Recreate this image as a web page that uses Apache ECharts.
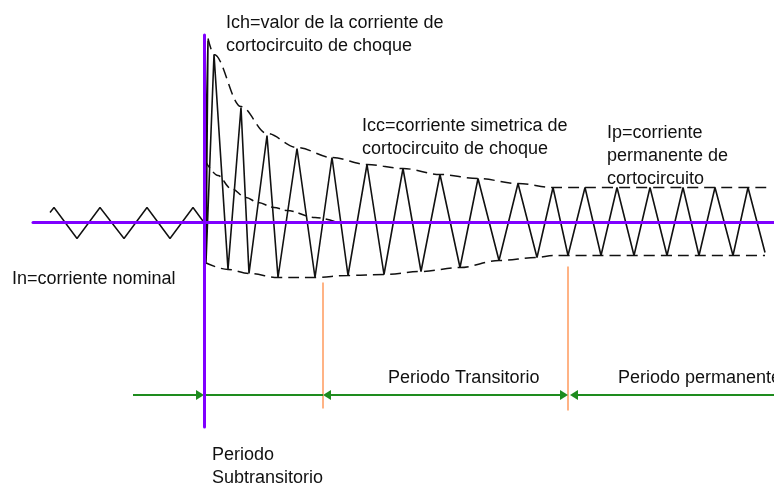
<!DOCTYPE html>
<html>
<head>
<meta charset="utf-8">
<script src="https://cdn.jsdelivr.net/npm/echarts@6/dist/echarts.min.js"></script>
<style>
html, body { margin: 0; padding: 0; background: #fff; }
#chart { width: 774px; height: 486px; }
</style>
</head>
<body>
<div id="chart"></div>
<script>
// tiempo en unidades arbitrarias, 0 = instante del cortocircuito
var tPre = [-154, -150, -127, -104, -80, -57, -34, -11, 0];
var iPre = [10, 15, -16, 15, -16, 15, -16, 15, 0];

// corriente de cortocircuito (picos y valles)
var tFault = [0, 4, 2, 10, 24, 37, 45, 63, 74, 93, 111, 128, 144, 163, 180, 199, 217, 236, 256, 274,
    295, 314, 333, 349, 364, 381, 397, 413, 430, 446, 463, 479, 495, 511, 529, 544, 561];
var iFault = [0, 182, -40, 168, -47, 115, -51, 87, -55, 74, -55, 65, -53, 58, -52, 54, -49, 48, -45, 44,
    -38, 39, -35, 35, -33, 35, -33, 35, -33, 35, -33, 35, -33, 35, -33, 35, -30];

// envolventes
var tUpper = [4, 10, 37, 63, 93, 128, 163, 199, 236, 274, 314, 349, 563];
var iUpper = [184, 168, 116, 89, 75, 65, 58, 54, 48, 44, 39, 35, 35];
var tLower = [1, 24, 45, 74, 111, 144, 180, 217, 256, 295, 333, 349, 561];
var iLower = [-40, -47, -51, -55, -55, -53, -52, -49, -45, -38, -35, -33, -33];

// componente continua
var tDC = [1, 14, 27, 42, 54, 70, 83, 111, 134];
var iDC = [62, 47, 34, 25, 20, 15, 12, 5, 0];

// limites de los periodos: subtransitorio | transitorio | permanente
var periodBounds = [0, 119, 364];

function zip(t, v) {
    return t.map(function (x, k) { return [x, v[k]]; });
}

var FONT = '"Liberation Sans", Arial, sans-serif';
function textLines(x, y, lines) {
    return lines.map(function (s, k) {
        return {
            type: 'text', left: x, top: y + k * 23 - 8, silent: true,
            style: { text: s, fill: '#111', fontSize: 18, fontFamily: FONT }
        };
    });
}

var myChart = echarts.init(document.getElementById('chart'));

var green = '#1e8c1e';
var orange = '#ff9a5c';
var yArrow = -172.5;
var ah = 4; // medio largo de la flecha

var option = {
    animation: false,
    grid: { left: 33, right: 0, top: 35, bottom: 59 },
    xAxis: {
        type: 'value', min: -171, max: 570, z: 5,
        axisLine: { show: true, onZero: true, lineStyle: { color: '#7f00ff', width: 3 } },
        axisTick: { show: false }, axisLabel: { show: false }, splitLine: { show: false }
    },
    yAxis: {
        type: 'value', min: -204.5, max: 187.5, z: 5,
        axisLine: { show: true, onZero: true, lineStyle: { color: '#7f00ff', width: 3 } },
        axisTick: { show: false }, axisLabel: { show: false }, splitLine: { show: false }
    },
    series: [{
        name: 'nominal', type: 'line', symbol: 'none',
        data: zip(tPre, iPre),
        lineStyle: { color: '#111', width: 1.5 }
    }, {
        name: 'cortocircuito', type: 'line', symbol: 'none',
        data: zip(tFault, iFault),
        lineStyle: { color: '#111', width: 1.6 }
    }, {
        name: 'envolvente sup', type: 'line', symbol: 'none', smooth: 0.35, smoothMonotone: 'x',
        data: zip(tUpper, iUpper),
        lineStyle: { color: '#111', width: 1.5, type: [11, 6] }
    }, {
        name: 'envolvente inf', type: 'line', symbol: 'none', smooth: 0.35, smoothMonotone: 'x',
        data: zip(tLower, iLower),
        lineStyle: { color: '#111', width: 1.5, type: [11, 6] }
    }, {
        name: 'continua', type: 'line', symbol: 'none', smooth: 0.35, smoothMonotone: 'x',
        data: zip(tDC, iDC),
        lineStyle: { color: '#111', width: 1.5, type: [9, 5] }
    }, {
        name: 'periodos', type: 'line', data: [],
        markLine: {
            silent: true, animation: false,
            symbol: ['none', 'none'], symbolSize: [10, 2 * ah],
            label: { show: false },
            lineStyle: { color: green, width: 2, type: 'solid' },
            data: [
                [{ coord: [periodBounds[1], -60], lineStyle: { color: orange, width: 1.5 } }, { coord: [periodBounds[1], -186] }],
                [{ coord: [periodBounds[2], -44], lineStyle: { color: orange, width: 1.5 } }, { coord: [periodBounds[2], -188] }],
                [{ coord: [-71, yArrow] }, { coord: [periodBounds[0] - ah, yArrow], symbol: 'triangle' }],
                [{ coord: [periodBounds[0], yArrow] }, { coord: [periodBounds[1], yArrow] }],
                [{ coord: [periodBounds[1] + ah, yArrow], symbol: 'triangle' }, { coord: [periodBounds[2] - ah, yArrow], symbol: 'triangle' }],
                [{ coord: [periodBounds[2] + 2 + ah, yArrow], symbol: 'triangle' }, { coord: [570, yArrow] }]
            ]
        }
    }],
    graphic: [].concat(
        textLines(226, 22, ['Ich=valor de la corriente de', 'cortocircuito de choque']),
        textLines(362, 125, ['Icc=corriente simetrica de', 'cortocircuito de choque']),
        textLines(607, 132, ['Ip=corriente', 'permanente de', 'cortocircuito']),
        textLines(12, 278, ['In=corriente nominal']),
        textLines(388, 377, ['Periodo Transitorio']),
        textLines(618, 377, ['Periodo permanente']),
        textLines(212, 454, ['Periodo', 'Subtransitorio'])
    )
};

myChart.setOption(option);
</script>
</body>
</html>
